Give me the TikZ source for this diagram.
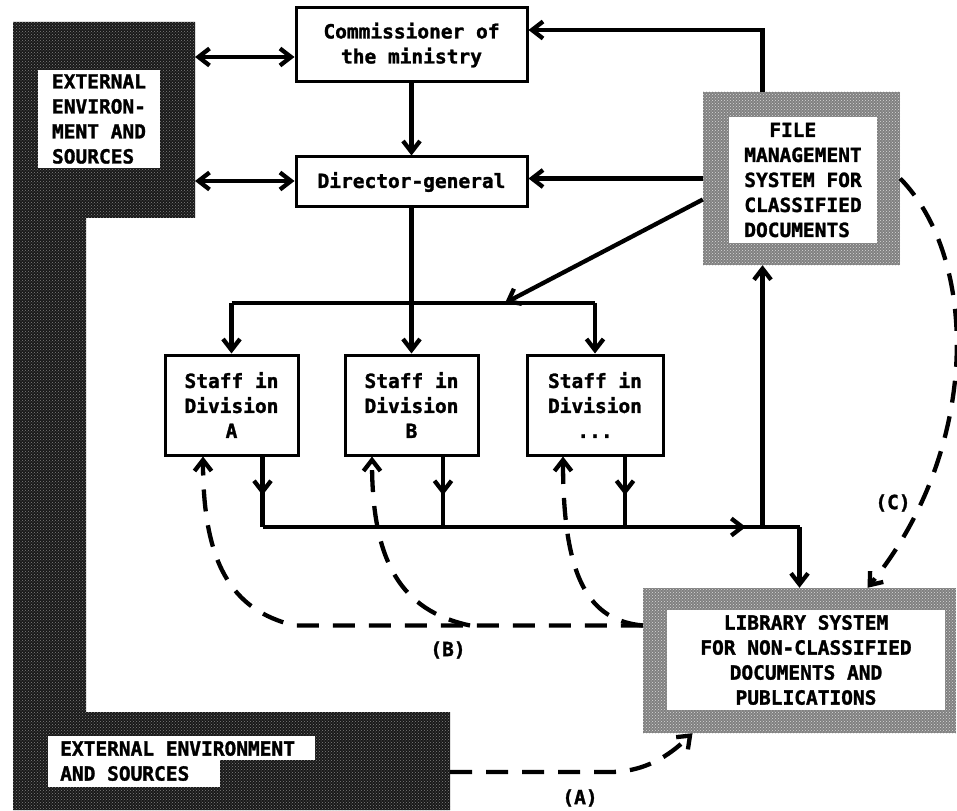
\documentclass[tikz,border=0pt]{standalone}
\usepackage{fontspec}
\setmonofont{DejaVu Sans Mono}[BoldFeatures={FakeBold=1.5}]
\usetikzlibrary{arrows.meta,decorations.markings,patterns}

\begin{document}
\begin{tikzpicture}[x=1pt,y=-1pt,
  every node/.style={font=\ttfamily\bfseries\fontsize{19.5}{25}\selectfont},
  box/.style={draw, line width=3pt, fill=white, inner sep=0pt},
  txtpanel/.style={fill=white, inner sep=0pt, align=left},
  envfill/.style={fill=black!90, postaction={pattern=crosshatch dots, pattern color=black!50}},
  frame/.style={fill=black!50, postaction={pattern=crosshatch dots, pattern color=white!85!black}, inner sep=0pt},
  wire/.style={line width=4.3pt},
  dashedwire/.style={line width=4.3pt, dash pattern=on 22pt off 14pt},
  tip/.style={-{Straight Barb[length=11pt,width=17pt]}},
  both/.style={{Straight Barb[length=11pt,width=17pt]}-{Straight Barb[length=11pt,width=17pt]}},
  midtip/.style={postaction={decorate}, decoration={markings,
      mark=at position #1 with {\arrow{Straight Barb[length=11pt,width=17pt]}}}}]

\useasboundingbox (0,0) rectangle (957,810);

% external environment band (L shape)
\fill[envfill] (13,22) -- (195,22) -- (195,218) -- (86,218) -- (86,712)
  -- (450,712) -- (450,810) -- (13,810) -- cycle;
\node[txtpanel, minimum width=122pt, minimum height=98pt] (ext1) at (99,119)
  {EXTERNAL\\ENVIRON-\\MENT AND\\SOURCES};
\fill[white] (48,736) rectangle (315,760);
\fill[white] (48,760) rectangle (220,787);
\node[anchor=west, align=left, inner sep=0pt] (ext2) at (60,761)
  {EXTERNAL ENVIRONMENT\\AND SOURCES};

% management boxes
\node[box, minimum width=231pt, minimum height=74pt, align=center] (comm) at (411.5,45)
  {Commissioner of\\the ministry};
\node[box, minimum width=231pt, minimum height=50pt] (dir) at (411.5,182)
  {Director-general};
\node[box, minimum width=133pt, minimum height=100pt, align=center] (staffA) at (231.5,405)
  {Staff in\\Division\\A};
\node[box, minimum width=133pt, minimum height=100pt, align=center] (staffB) at (411.5,405)
  {Staff in\\Division\\B};
\node[box, minimum width=136pt, minimum height=100pt, align=center] (staffC) at (595,405)
  {Staff in\\Division\\...};

% document systems
\node[frame, minimum width=197pt, minimum height=173pt] (file) at (801.5,178.5) {};
\node[txtpanel, minimum width=148pt, minimum height=126pt] (filetxt) at (803,180)
  {\hspace*{25pt}FILE\\MANAGEMENT\\SYSTEM FOR\\CLASSIFIED\\DOCUMENTS};
\node[frame, minimum width=313pt, minimum height=145pt] (lib) at (799.5,660.5) {};
\node[txtpanel, align=center, minimum width=278pt, minimum height=100pt] (libtxt) at (806,660)
  {LIBRARY SYSTEM\\FOR NON-CLASSIFIED\\DOCUMENTS AND\\PUBLICATIONS};

% connection points
\coordinate (envN) at (195,57);
\coordinate (envM) at (195,181);
\coordinate (envS) at (450,772);
\coordinate (busT) at (505,303);
\coordinate (busY) at (0,527);
\coordinate (fileS) at ([xshift=-39pt]file.south);
\coordinate (fileN) at ([xshift=-39pt]file.north);
\coordinate (outA) at ([xshift=31pt]staffA.south);
\coordinate (outB) at ([xshift=31.5pt]staffB.south);
\coordinate (outC) at ([xshift=30pt]staffC.south);
\coordinate (libW) at ([yshift=35pt]lib.west);
\coordinate (bA) at (295,625.5);
\coordinate (bB) at (470,625.5);

% solid flows
\draw[wire,both] (envN) -- ([yshift=-12pt]comm.west);
\draw[wire,both] (envM) -- (envM -| dir.west);
\draw[wire,tip] (comm.south) -- (dir.north);
\draw[wire,tip] (fileN) |- ([yshift=15pt]comm.east);
\draw[wire,tip] (file.west) -- (file.west -| dir.east);
\draw[wire,tip] ([yshift=-21pt]file.west) -- (busT);
\draw[wire,tip] (dir.south) -- (staffB.north);
\draw[wire] (staffA.north |- busT) -- (staffC.north |- busT);
\draw[wire,tip] (staffA.north |- busT) -- (staffA.north);
\draw[wire,tip] (staffC.north |- busT) -- (staffC.north);

\draw[wire,midtip=0.55] (outA) -- (outA |- busY);
\draw[wire,midtip=0.55] (outB) -- (outB |- busY);
\draw[wire,midtip=0.55] (outC) -- (outC |- busY);
\draw[wire,midtip=0.9] (outA |- busY) -- (lib.north |- busY);
\draw[wire,tip] (fileS |- busY) -- (fileS);
\draw[wire,tip] (lib.north |- busY) -- (lib.north);

% dashed flows
\draw[dashedwire,tip] (libW) -- (bA) .. controls +(-65,-15) and +(0,104) .. ([xshift=-28.5pt]staffA.south);
\draw[dashedwire,tip] (bB) .. controls +(-70,-15) and +(0,104) .. ([xshift=-39.5pt]staffB.south);
\draw[dashedwire,tip] (libW) .. controls +(-53,-5) and +(0,124) .. ([xshift=-32pt]staffC.south);
\draw[dashedwire,tip] (file.east) .. controls (980,260) and (980,450) .. ([xshift=68pt]lib.north);
\draw[dashedwire,tip] (envS) -- (610,772) .. controls (650,772) and (675,750) .. ([xshift=-107pt]lib.south);

% flow labels
\node (labA) at (580,798) {(A)};
\node (labB) at (448,650) {(B)};
\node (labC) at (893,503) {(C)};
\end{tikzpicture}
\end{document}
